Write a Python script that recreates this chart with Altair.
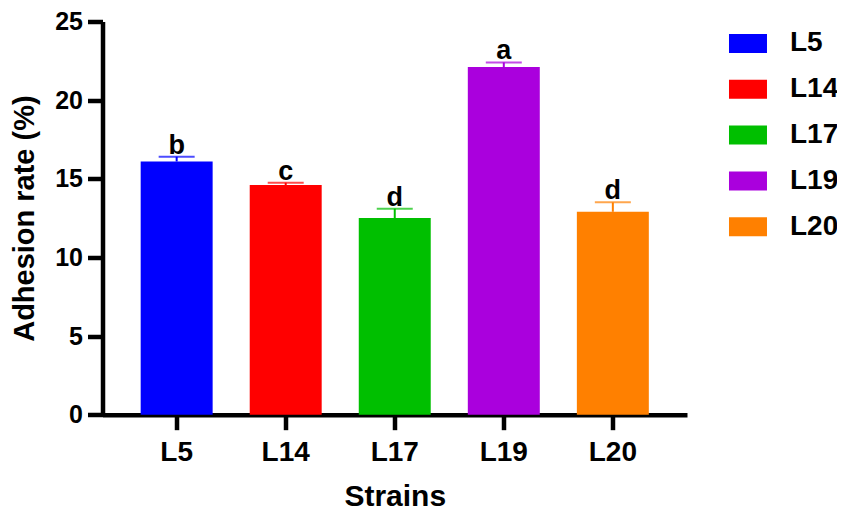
import altair as alt
import pandas as pd

strains = ["L5", "L14", "L17", "L19", "L20"]
rates = [16.1, 14.6, 12.5, 22.1, 12.9]
errors = [0.3, 0.15, 0.6, 0.3, 0.6]
letters = ["b", "c", "d", "a", "d"]
colors = ["#0000FF", "#FF0000", "#00BF00", "#AA00DD", "#FF8000"]
y_ticks = [0, 5, 10, 15, 20, 25]

df = pd.DataFrame({
    "strain": strains,
    "rate": rates,
    "err": errors,
    "letter": letters,
})
df["upper"] = df["rate"] + df["err"]

FONT = "Liberation Sans"

x_enc = alt.X(
    "strain:N",
    sort=strains,
    scale=alt.Scale(paddingInner=0.34, paddingOuter=0.35),
    axis=alt.Axis(
        title="Strains", labelAngle=0, labelFontSize=28, labelFont=FONT,
        labelFontWeight="bold", labelColor="black", labelPadding=9,
        tickSize=15, tickWidth=4.5, tickColor="black",
        domainWidth=4.5, domainColor="black",
        titleFontSize=30, titleFont=FONT, titleFontWeight="bold",
        titleColor="black", titlePadding=15,
    ),
)

color_enc = alt.Color(
    "strain:N",
    sort=strains,
    scale=alt.Scale(domain=strains, range=colors),
    legend=alt.Legend(
        title=None, orient="none", legendX=626.5, legendY=3,
        symbolType="M-1,-0.5H1V0.5H-1Z", symbolSize=1444,
        symbolStrokeWidth=0, symbolOpacity=1, rowPadding=12.8,
        labelFontSize=28, labelFont=FONT, labelFontWeight="bold",
        labelColor="black", labelOffset=23, padding=0,
    ),
)

y_scale = alt.Scale(domain=[0, 25], nice=False)

bars = alt.Chart(df).mark_bar().encode(
    x=x_enc,
    y=alt.Y(
        "rate:Q",
        scale=y_scale,
        axis=alt.Axis(
            title="Adhesion rate (%)", values=y_ticks, grid=False,
            labelFontSize=25, labelFont=FONT, labelFontWeight="bold",
            labelColor="black", labelPadding=5,
            tickSize=15, tickWidth=4.5, tickColor="black",
            domainWidth=4.5, domainColor="black",
            titleFontSize=29, titleFont=FONT, titleFontWeight="bold",
            titleColor="black", titlePadding=15,
        ),
    ),
    color=color_enc,
)

err_rule = alt.Chart(df).mark_rule(strokeWidth=2).encode(
    x=alt.X("strain:N", sort=strains),
    y=alt.Y("rate:Q", scale=y_scale),
    y2="upper:Q",
    color=alt.Color("strain:N", sort=strains, legend=None),
)

caps = alt.Chart(df).mark_tick(thickness=2, size=36).encode(
    x=alt.X("strain:N", sort=strains),
    y=alt.Y("upper:Q", scale=y_scale),
    color=alt.Color("strain:N", sort=strains, legend=None),
)

labels = alt.Chart(df).mark_text(
    fontSize=27, font=FONT, fontWeight="bold", color="black",
    baseline="alphabetic", dy=-3,
).encode(
    x=alt.X("strain:N", sort=strains),
    y=alt.Y("upper:Q", scale=y_scale),
    text="letter:N",
)

chart = alt.layer(bars, err_rule, caps, labels).properties(
    width=584.5,
    height=393.2,
    autosize=alt.AutoSizeParams(type="none"),
    padding={"left": 94.5, "top": 13.5, "right": 150, "bottom": 100},
    background="white",
).configure_view(stroke=None)

chart.save("out.html", embed_options={"renderer": "svg", "actions": False})
